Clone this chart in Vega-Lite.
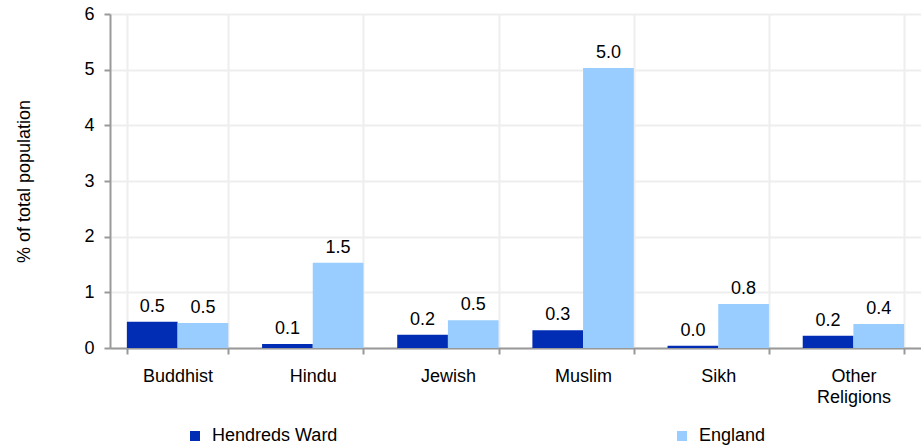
{
  "$schema": "https://vega.github.io/schema/vega-lite/v6.json",
  "background": "#fff",
  "autosize": "none",
  "padding": {"left": 110, "top": 14, "right": 0, "bottom": 98},
  "width": 811,
  "height": 334,
  "data": {
    "values": [
      {"religion": "Buddhist", "area": "Hendreds Ward", "value": 0.47},
      {"religion": "Buddhist", "area": "England", "value": 0.45},
      {"religion": "Hindu", "area": "Hendreds Ward", "value": 0.07},
      {"religion": "Hindu", "area": "England", "value": 1.53},
      {"religion": "Jewish", "area": "Hendreds Ward", "value": 0.24},
      {"religion": "Jewish", "area": "England", "value": 0.5},
      {"religion": "Muslim", "area": "Hendreds Ward", "value": 0.32},
      {"religion": "Muslim", "area": "England", "value": 5.03},
      {"religion": "Sikh", "area": "Hendreds Ward", "value": 0.04},
      {"religion": "Sikh", "area": "England", "value": 0.79},
      {"religion": "Other Religions", "area": "Hendreds Ward", "value": 0.22},
      {"religion": "Other Religions", "area": "England", "value": 0.43}
    ]
  },
  "encoding": {
    "x": {
      "field": "religion",
      "type": "nominal",
      "sort": null,
      "title": null,
      "scale": {"paddingInner": 0.25, "paddingOuter": 0.125},
      "axis": {
        "labelAngle": 0,
        "tickBand": "extent",
        "grid": true,
        "gridColor": "#eeeeee",
        "gridWidth": 2,
        "domainColor": "#999999",
        "domainWidth": 2,
        "tickColor": "#999999",
        "tickWidth": 2,
        "tickSize": 6,
        "labelPadding": 13,
        "labelExpr": "split(datum.label, ' ')",
        "labelLineHeight": 21
      }
    },
    "xOffset": {"field": "area", "type": "nominal", "sort": ["Hendreds Ward", "England"]},
    "y": {
      "field": "value",
      "type": "quantitative",
      "title": "% of total population",
      "scale": {"domain": [0, 6]},
      "axis": {
        "tickCount": 6,
        "gridColor": "#eeeeee",
        "gridWidth": 2,
        "domainColor": "#999999",
        "domainWidth": 2,
        "tickColor": "#999999",
        "tickWidth": 2,
        "tickSize": 6,
        "labelPadding": 10,
        "titlePadding": 50
      }
    }
  },
  "layer": [
    {
      "mark": {"type": "bar"},
      "encoding": {
        "color": {
          "field": "area",
          "type": "nominal",
          "sort": ["Hendreds Ward", "England"],
          "title": null,
          "scale": {"domain": ["Hendreds Ward", "England"], "range": ["#002db3", "#99ccff"]},
          "legend": {
            "orient": "none",
            "direction": "horizontal",
            "legendX": 76,
            "legendY": 413,
            "symbolType": "square",
            "symbolSize": 100,
            "symbolStrokeWidth": 0,
            "columnPadding": 335,
            "labelFontSize": 18,
            "labelOffset": 8
          }
        }
      }
    },
    {
      "mark": {"type": "text", "baseline": "bottom", "dy": -6, "fontSize": 18, "color": "#000"},
      "encoding": {
        "text": {"field": "value", "type": "quantitative", "format": ".1f"}
      }
    }
  ],
  "config": {
    "font": "Liberation Sans",
    "view": {"stroke": null},
    "axis": {
      "labelFont": "Liberation Sans",
      "titleFont": "Liberation Sans",
      "labelFontSize": 18,
      "titleFontSize": 18,
      "titleFontWeight": "normal",
      "labelColor": "#000",
      "titleColor": "#000"
    },
    "legend": {"labelFont": "Liberation Sans", "labelColor": "#000"}
  }
}
